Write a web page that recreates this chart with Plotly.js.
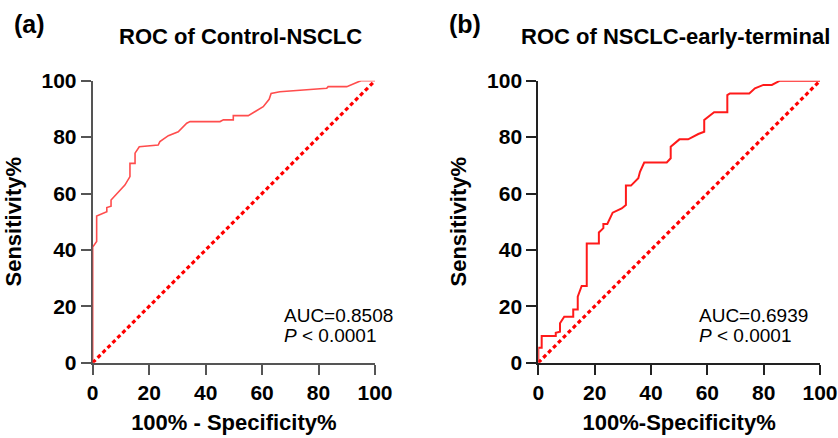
<!DOCTYPE html>
<html>
<head>
<meta charset="utf-8">
<script src="https://cdn.plot.ly/plotly-3.0.1.min.js"></script>
<style>html,body{margin:0;padding:0;background:#fff;}#chart{width:838px;height:438px;}</style>
</head>
<body>
<div id="chart"></div>
<script>
// Panel (a): ROC of Control-NSCLC
const fprA = [0,0,1.4,1.4,5,5,6.5,6.5,11.4,13.2,13.2,15,15,16.5,23.2,23.8,26.8,30.3,33.3,34.5,45.1,46.3,49.8,49.8,55.1,58.7,60.4,62.5,63.2,66.3,75.2,82.9,83.4,90,92.9,95,100];
const tprA = [0,41,43,52,53.5,55,55.5,57.7,63,66,70.7,70.7,74.3,76.6,77.2,78.4,80.5,81.9,84.9,85.5,85.5,86.1,86.1,87.6,87.6,89.9,90.8,93.4,95.5,96.1,96.7,97.3,97.9,97.9,99.1,100,100];
// Panel (b): ROC of NSCLC-early-terminal
const fprB = [0,0,1.2,1.2,6.2,6.2,7.7,7.7,9.2,12.4,12.4,14,14,15.4,17.2,17.2,21.5,21.5,23.1,23.1,24.5,26.4,29.6,31.1,31.1,32.9,35.5,36.1,37.6,45.6,47,47,50.1,53.2,56.8,58.9,58.9,62.4,67.1,67.1,68,74.9,76.9,79.9,82.9,85.8,100];
const tprB = [0,5.3,5.3,9.5,9.5,10.6,11,14,16.3,16.3,18.9,18.9,23.4,27.2,27.2,42.3,42.3,46.2,47.7,49.2,49.2,53.2,54.7,55.9,62.8,62.8,65.4,67.7,71,71,72.5,76.6,79.2,79.2,81.1,81.9,86.1,88.8,88.8,94.9,95.5,95.5,97.3,98.5,98.5,100,100];
// Reference line
const diagX = [0,100];
const diagY = [0,100];
const tickVals = [0,20,40,60,80,100];
const titles = ["ROC of Control-NSCLC","ROC of NSCLC-early-terminal"];
const panelLabels = ["(a)","(b)"];
const aucText = ["AUC=0.8508","AUC=0.6939"];
const pText = "<i>P</i> < 0.0001";
const xTitles = ["100% - Specificity%","100%-Specificity%"];
const yTitle = "Sensitivity%";

const FONT = "Arial, 'Liberation Sans', sans-serif";
const W = 838, H = 438;
const yBot = 1 - 362.7/H, yTop = 1 - 80.7/H;

const traces = [
  {x: fprA, y: tprA, xaxis:'x', yaxis:'y', mode:'lines', line:{color:'#ff4d4d', width:1.6}, cliponaxis:false, hoverinfo:'skip'},
  {x: diagX, y: diagY, xaxis:'x', yaxis:'y', mode:'lines', line:{color:'#ff0000', width:3.2, dash:'4px,3px'}, cliponaxis:false, hoverinfo:'skip'},
  {x: fprB, y: tprB, xaxis:'x2', yaxis:'y2', mode:'lines', line:{color:'#ff1a1a', width:2}, cliponaxis:false, hoverinfo:'skip'},
  {x: diagX, y: diagY, xaxis:'x2', yaxis:'y2', mode:'lines', line:{color:'#ff0000', width:3.2, dash:'4px,3px'}, cliponaxis:false, hoverinfo:'skip'}
];

function ax(domain, anchor, color, title, isY) {
  return {
    domain: domain, anchor: anchor, range:[0,100], tickvals: tickVals,
    showgrid:false, zeroline:false, showline:true, linecolor:color, linewidth:2,
    layer:'below traces',
    ticks:'outside', ticklen:10, tickwidth:2, tickcolor:color,
    tickfont:{family:FONT, size:21, color:'#000', weight:'bold'},
    title:{text:title, font:{family:FONT, size:22, color:'#000', weight:'bold'}, standoff: isY ? 14 : 12},
    fixedrange:true
  };
}

const layout = {
  width: W, height: H,
  margin:{l:0,r:0,t:0,b:0},
  paper_bgcolor:'#fff', plot_bgcolor:'#fff',
  showlegend:false,
  xaxis: ax([92.7/W, 375/W], 'y', '#555', xTitles[0], false),
  yaxis: ax([yBot, yTop], 'x', '#555', yTitle, true),
  xaxis2: ax([538.3/W, 820/W], 'y2', '#222', xTitles[1], false),
  yaxis2: ax([yBot, yTop], 'x2', '#222', yTitle, true),
  annotations: [
    {text: titles[0], x:241/W, y:1-36/H, xref:'paper', yref:'paper', xanchor:'center', yanchor:'middle', showarrow:false, font:{family:FONT, size:22, color:'#000', weight:'bold'}},
    {text: titles[1], x:675/W, y:1-36/H, xref:'paper', yref:'paper', xanchor:'center', yanchor:'middle', showarrow:false, font:{family:FONT, size:22, color:'#000', weight:'bold'}},
    {text: panelLabels[0], x:12/W, y:1-24/H, xref:'paper', yref:'paper', xanchor:'left', yanchor:'middle', showarrow:false, font:{family:FONT, size:25, color:'#000', weight:'bold'}},
    {text: panelLabels[1], x:447/W, y:1-24/H, xref:'paper', yref:'paper', xanchor:'left', yanchor:'middle', showarrow:false, font:{family:FONT, size:25, color:'#000', weight:'bold'}},
    {text: aucText[0], x:66.9, y:16.9, xref:'x', yref:'y', xanchor:'left', yanchor:'middle', showarrow:false, font:{family:FONT, size:19, color:'#000'}},
    {text: pText, x:66.9, y:9.8, xref:'x', yref:'y', xanchor:'left', yanchor:'middle', showarrow:false, font:{family:FONT, size:19, color:'#000'}},
    {text: aucText[1], x:56.2, y:16.9, xref:'x2', yref:'y2', xanchor:'left', yanchor:'middle', showarrow:false, font:{family:FONT, size:19, color:'#000'}},
    {text: pText, x:56.2, y:9.8, xref:'x2', yref:'y2', xanchor:'left', yanchor:'middle', showarrow:false, font:{family:FONT, size:19, color:'#000'}}
  ]
};

Plotly.newPlot('chart', traces, layout, {displayModeBar:false, staticPlot:true});
</script>
</body>
</html>
